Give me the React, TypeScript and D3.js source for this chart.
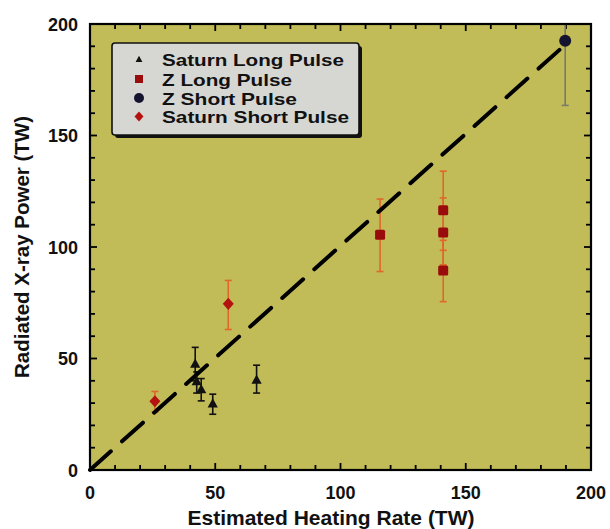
import React from "react";
import * as d3 from "d3";

const xTicks = [0, 50, 100, 150, 200];
const yTicks = [0, 50, 100, 150, 200];
const minorTicks = d3.range(0, 201, 10);

type Pt = { x: number; y: number; lo: number; hi: number };

const saturnLong: Pt[] = [
  { x: 42.0, y: 47.5, lo: 40, hi: 55 },
  { x: 42.6, y: 39.6, lo: 34.5, hi: 44 },
  { x: 44.4, y: 36.0, lo: 31, hi: 41 },
  { x: 49.0, y: 29.6, lo: 25, hi: 34 },
  { x: 66.5, y: 40.3, lo: 34.5, hi: 47 },
];
const zLong: Pt[] = [
  { x: 115.8, y: 105.5, lo: 89, hi: 121.5 },
  { x: 141, y: 116.5, lo: 98.5, hi: 134 },
  { x: 141, y: 106.5, lo: 92, hi: 122 },
  { x: 141, y: 89.5, lo: 75.5, hi: 103 },
];
const zShort: Pt[] = [{ x: 189.7, y: 192.5, lo: 163.5, hi: 200 }];
const saturnShort: Pt[] = [
  { x: 25.9, y: 30.8, lo: 26, hi: 35.2 },
  { x: 55.2, y: 74.5, lo: 63, hi: 85 },
];
const fitLine: [number, number][] = [
  [0, 0],
  [189, 190],
];
const legendLabels = ["Saturn Long Pulse", "Z Long Pulse", "Z Short Pulse", "Saturn Short Pulse"];
const legendWidths = [182, 130, 135, 187];

const W = 610;
const H = 529;
const L = 90, R = 591, T = 24, B = 470;
const FONT = "'Liberation Sans', Arial, Helvetica, sans-serif";

export default function App() {
  const x = d3.scaleLinear().domain([0, 200]).range([L, R]);
  const y = d3.scaleLinear().domain([0, 200]).range([B, T]);
  const line = d3.line<[number, number]>().x((d) => x(d[0])).y((d) => y(d[1]));

  const errBars = (data: Pt[], color: string, key: string) =>
    data.map((d, i) => (
      <g key={key + i} stroke={color} strokeWidth={1.6}>
        <line x1={x(d.x)} x2={x(d.x)} y1={y(d.lo)} y2={y(d.hi)} />
        <line x1={x(d.x) - 3.5} x2={x(d.x) + 3.5} y1={y(d.lo)} y2={y(d.lo)} />
        <line x1={x(d.x) - 3.5} x2={x(d.x) + 3.5} y1={y(d.hi)} y2={y(d.hi)} />
      </g>
    ));

  const tri = (cx: number, cy: number, s: number) =>
    `M${cx},${cy - s * 0.95}L${cx + s * 0.85},${cy + s * 0.6}L${cx - s * 0.85},${cy + s * 0.6}Z`;
  const dia = (cx: number, cy: number, s: number) =>
    `M${cx},${cy - s * 1.1}L${cx + s},${cy}L${cx},${cy + s * 1.1}L${cx - s},${cy}Z`;

  const triColor = "#111111";
  const sqColor = "#9a0b0b";
  const circColor = "#14142e";
  const diaColor = "#b3120f";

  const legX = 112, legY = 43, legW = 247, legH = 92;
  const rowY = [59.5, 79, 98, 116.5];

  return (
    <svg width={W} height={H} style={{ position: "absolute", left: 0, top: 0, background: "#fff" }} fontFamily={FONT}>
      <rect x={L} y={T} width={R - L} height={B - T} fill="#c1bc57" />
      {minorTicks.map((t) => {
        const len = t % 50 === 0 ? 7 : 5;
        return (
          <g key={"t" + t} stroke="#000" strokeWidth={1.8}>
            <line x1={x(t)} x2={x(t)} y1={B} y2={B - len} />
            <line x1={x(t)} x2={x(t)} y1={T} y2={T + len} />
            <line x1={L} x2={L + len} y1={y(t)} y2={y(t)} />
            <line x1={R} x2={R - len} y1={y(t)} y2={y(t)} />
          </g>
        );
      })}
      {errBars(saturnLong, "#111", "sl")}
      {errBars(zLong, "#e0672c", "zl")}
      {errBars(zShort, "#7a7a6a", "zs")}
      {errBars(saturnShort, "#e0672c", "ss")}
      <path d={line(fitLine) || ""} fill="none" stroke="#000" strokeWidth={4} strokeDasharray="28 15" strokeLinecap="round" />
      {saturnLong.map((d, i) => (
        <path key={"slm" + i} d={tri(x(d.x), y(d.y), 6)} fill={triColor} />
      ))}
      {zLong.map((d, i) => (
        <rect key={"zlm" + i} x={x(d.x) - 5} y={y(d.y) - 5} width={10} height={10} rx={1.5} fill={sqColor} />
      ))}
      {zShort.map((d, i) => (
        <circle key={"zsm" + i} cx={x(d.x)} cy={y(d.y)} r={6} fill={circColor} />
      ))}
      {saturnShort.map((d, i) => (
        <path key={"ssm" + i} d={dia(x(d.x), y(d.y), 5.5)} fill={diaColor} />
      ))}
      <rect x={L} y={T} width={R - L} height={B - T} fill="none" stroke="#000" strokeWidth={2.2} />
      {/* legend */}
      <rect x={legX + 3} y={legY + 3} width={legW} height={legH} rx={3} fill="#111" />
      <rect x={legX} y={legY} width={legW} height={legH} rx={3} fill="#d6d6d3" stroke="#111" strokeWidth={1.6} />
      <path d={tri(139, rowY[0], 4)} fill={triColor} />
      <rect x={135} y={rowY[1] - 4} width={8} height={8} fill={sqColor} />
      <circle cx={139} cy={rowY[2]} r={5} fill={circColor} />
      <path d={dia(139, rowY[3], 4.5)} fill={diaColor} />
      {legendLabels.map((lab, i) => (
        <text
          key={lab}
          x={162}
          y={rowY[i] + 6.5}
          fontSize={17}
          fontWeight="bold"
          fill="#111"
          textLength={legendWidths[i]}
          lengthAdjust="spacingAndGlyphs"
        >
          {lab}
        </text>
      ))}
      {xTicks.map((t) => (
        <text key={"xl" + t} x={x(t)} y={499} fontSize={18} fontWeight="bold" textAnchor="middle" fill="#111">
          {t}
        </text>
      ))}
      {yTicks.map((t) => (
        <text key={"yl" + t} x={78} y={y(t) + 6.5} fontSize={18} fontWeight="bold" textAnchor="end" fill="#111">
          {t}
        </text>
      ))}
      <text x={331} y={525} fontSize={21} fontWeight="bold" textAnchor="middle" fill="#111">
        Estimated Heating Rate (TW)
      </text>
      <text
        transform={`translate(29,${(T + B) / 2}) rotate(-90)`}
        fontSize={20.5}
        fontWeight="bold"
        textAnchor="middle"
        fill="#111"
      >
        Radiated X-ray Power (TW)
      </text>
    </svg>
  );
}
